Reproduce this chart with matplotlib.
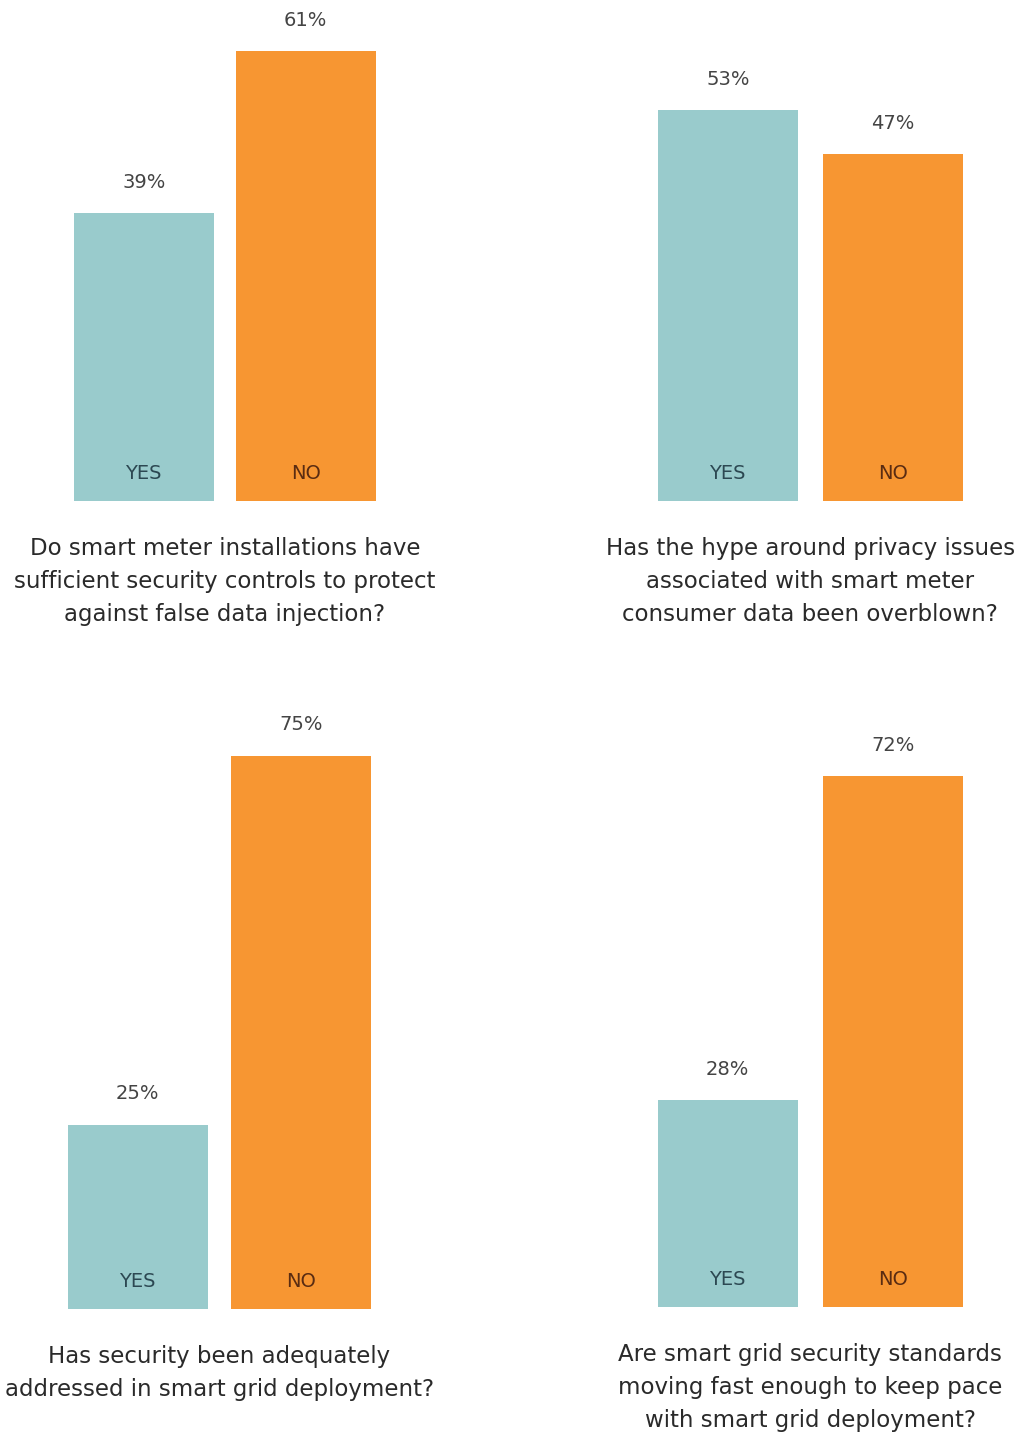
import matplotlib.pyplot as plt

plt.rcParams['font.family'] = ['DejaVu Sans']

# survey answers, in percent
questions = [
    'Do smart meter installations have\nsufficient security controls to protect\nagainst false data injection?',
    'Has the hype around privacy issues\nassociated with smart meter\nconsumer data been overblown?',
    'Has security been adequately\naddressed in smart grid deployment?',
    'Are smart grid security standards\nmoving fast enough to keep pace\nwith smart grid deployment?',
]
answers = ['YES', 'NO']
yes_pct = [39, 53, 25, 28]
no_pct = [61, 47, 75, 72]

# pixel layout of each panel: left edge of YES bar, bar baseline, bar spacing
panel_left = [74, 658, 68, 658]
panel_base = [501, 501, 1309, 1307]
panel_step = [162, 165, 163, 165]

W, H = 1027, 1436
DPI = 100
PX_PER_PCT = 7.38
BAR_W = 139.5

teal = '#99cbcc'
orange = '#f79632'
label_cols = ['#2c4852', '#5a2c12']

fig = plt.figure(figsize=(W / DPI, H / DPI), dpi=DPI)

for i in range(4):
    step = panel_step[i]
    width_px = step + BAR_W
    height_px = 100 * PX_PER_PCT
    ax = fig.add_axes([panel_left[i] / W, 1 - panel_base[i] / H,
                       width_px / W, height_px / H])
    frac = BAR_W / step
    vals = [yes_pct[i], no_pct[i]]
    ax.bar([0, 1], vals, width=frac, color=[teal, orange])
    ax.set_xlim(-frac / 2, 1 + frac / 2)
    ax.set_ylim(0, 100)
    ax.axis('off')
    for x, v, lab, lc in zip([0, 1], vals, answers, label_cols):
        ax.annotate(f'{v}%', (x, v), xytext=(0, 22), textcoords='offset points',
                    ha='center', va='center', fontsize=14, color='#444444')
        ax.annotate(lab, (x, 0), xytext=(0, 19.5), textcoords='offset points',
                    ha='center', va='center', fontsize=14, color=lc)
    ax.annotate(questions[i], (0.5, 0), xytext=(0, -26), textcoords='offset points',
                ha='center', va='top', fontsize=16.5, color='#2a2a2a',
                linespacing=1.55)

fig.savefig('out.png', dpi=DPI, facecolor='white')
